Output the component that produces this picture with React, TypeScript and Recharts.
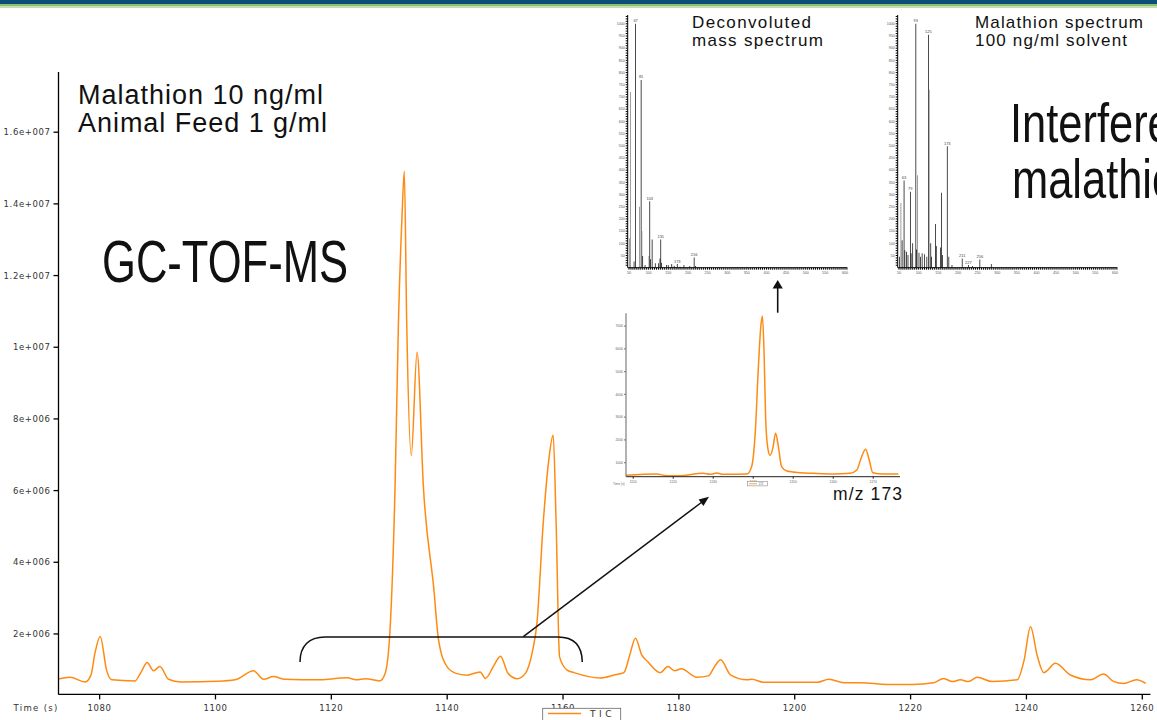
import React from 'react';
import { LineChart, Line, XAxis, YAxis, BarChart, Bar, Cell, LabelList } from 'recharts';

// ---------- Main TIC chromatogram (counts in thousands) ----------
const ticTimes = [
  1072.9, 1074.9, 1077.5, 1078.5, 1079.2, 1080.1, 1081.2, 1082.1, 1086.1, 1087.2,
  1088.2, 1089.3, 1090.4, 1091.9, 1094.0, 1100.5, 1103.4, 1106.6, 1108.3, 1110.0,
  1112.0, 1118.0, 1122.7, 1124.3, 1125.9, 1128.4, 1129.3, 1130.2, 1131.0, 1131.6,
  1132.2, 1132.6, 1133.0, 1133.8, 1134.8, 1135.9, 1137.7, 1138.5, 1140.0, 1141.5,
  1143.4, 1145.7, 1146.6, 1148.0, 1149.2, 1150.5, 1152.1, 1153.5, 1154.7, 1155.5,
  1156.6, 1157.5, 1158.3, 1158.8, 1159.4, 1160.7, 1161.9, 1166.4, 1169.0, 1170.5,
  1171.5, 1172.5, 1173.6, 1174.6, 1176.8, 1178.1, 1179.3, 1180.4, 1183.1, 1185.1,
  1186.2, 1187.2, 1188.9, 1191.8, 1192.6, 1194.6, 1203.9, 1205.9, 1208.5, 1211.4,
  1216.0, 1220.3, 1224.0, 1225.7, 1227.2, 1228.6, 1230.0, 1231.5, 1234.1, 1238.4,
  1239.6, 1240.7, 1241.9, 1243.0, 1245.0, 1247.6, 1251.1, 1253.3, 1255.1, 1256.8,
  1259.0, 1260.6,
];
const ticCountsK = [
  740, 790, 660, 850, 1470, 1930, 990, 720, 690, 950,
  1200, 975, 1090, 735, 660, 680, 720, 970, 735, 810,
  735, 720, 780, 720, 750, 690, 900, 2310, 6090, 10800,
  13640, 14910, 10800, 6980, 9860, 6090, 3250, 1840, 1080, 900,
  850, 940, 760, 1100, 1380, 900, 750, 900, 1500, 2310,
  5140, 6800, 7550, 5140, 1360, 990, 920, 770, 860, 920,
  1400, 1880, 1410, 1230, 920, 1090, 970, 1030, 790, 830,
  1100, 1280, 860, 720, 735, 650, 650, 735, 640, 640,
  590, 590, 640, 760, 670, 720, 670, 790, 670, 720,
  1270, 2200, 1370, 920, 1180, 855, 720, 880, 670, 620,
  720, 620,
];
const timeTicks = [1080, 1100, 1120, 1140, 1160, 1180, 1200, 1220, 1240, 1260];
const countTicksK = [2000, 4000, 6000, 8000, 10000, 12000, 14000, 16000];
const countTickLabels = ['2e+006', '4e+006', '6e+006', '8e+006', '1e+007', '1.2e+007', '1.4e+007', '1.6e+007'];

// ---------- Deconvoluted mass spectrum ----------
const deconvMz = [51, 54, 63, 67, 77, 81, 83, 85, 91, 101, 103, 105, 109, 117, 125, 129, 131, 133, 146, 150, 159, 165, 173, 180, 190, 205, 216, 219];
const deconvAbund = [120, 720, 25, 1000, 250, 770, 150, 48, 11, 48, 272, 35, 116, 18, 18, 38, 116, 20, 11, 11, 15, 8, 15, 4, 11, 7, 42, 7];
const deconvLabels = ['', '', '', '67', '', '81', '', '', '', '', '103', '', '', '', '', '', '131', '', '', '', '', '', '173', '', '', '', '216', ''];
const deconvShadedMz = [51, 54, 77, 83, 101];

// ---------- Malathion reference spectrum ----------
const malMz = [51, 55, 58, 63, 65, 69, 73, 79, 81, 85, 93, 95, 97, 101, 105, 109, 115, 121, 125, 127, 131, 133, 143, 145, 156, 158, 161, 173, 177, 185, 211, 227, 237, 256, 285];
const malAbund = [45, 265, 113, 358, 72, 65, 52, 311, 59, 100, 1000, 75, 379, 61, 45, 59, 55, 45, 955, 730, 100, 45, 179, 89, 83, 307, 52, 498, 45, 11, 38, 11, 7, 34, 15];
const malLabels = ['', '', '', '63', '', '', '', '79', '', '', '93', '', '', '', '', '', '', '', '125', '', '', '', '', '', '', '', '', '173', '', '', '211', '227', '', '256', ''];
const malShadedMz = [55, 97, 127];

const mzMajorTicks = [50, 100, 150, 200, 250, 300, 350, 400, 450, 500, 550, 600];
const abundMajorTicks = [50, 100, 150, 200, 250, 300, 350, 400, 450, 500, 550, 600, 650, 700, 750, 800, 850, 900, 950, 1000];

// ---------- m/z 173 extracted ion chromatogram ----------
const mz173Times = [1108.2, 1115.9, 1118.4, 1121.7, 1125.9, 1127.5, 1129.2, 1130.9, 1132.5, 1138.4,
  1139.6, 1140.5, 1141.3, 1141.9, 1142.3, 1142.7, 1143.1, 1143.6, 1144.2, 1144.9,
  1145.6, 1146.3, 1147.1, 1148.4, 1151.7, 1155.0, 1160.0, 1164.2, 1165.9, 1167.1,
  1168.1, 1169.0, 1169.9, 1172.5, 1176.3];
const mz173Counts = [444, 502, 430, 429, 517, 532, 488, 546, 488, 502,
  824, 2288, 5217, 6974, 7442, 5949, 3021, 1703, 1322, 1630,
  2289, 1703, 824, 634, 561, 532, 502, 532, 678, 1264,
  1586, 1117, 561, 502, 502];
const mz173TimeTicks = [1110, 1120, 1130, 1140, 1150, 1160, 1170];
const mz173CountTicks = [1000, 2000, 3000, 4000, 5000, 6000, 7000];

const ORANGE = '#ff8a12';
const SANS = 'Liberation Sans, Arial, sans-serif';
const AXISFONT = 'DejaVu Sans, sans-serif';

const ticData = ticTimes.map((t, i) => ({ t, v: ticCountsK[i] }));
const mz173Data = mz173Times.map((t, i) => ({ t, v: mz173Counts[i] }));

const minorMz: number[] = [];
for (let m = 50; m <= 605; m += 5) minorMz.push(m);
const minorAbund: number[] = [];
for (let a = 10; a <= 1030; a += 10) minorAbund.push(a);

const MainXTick = (p: any) => (
  <text x={p.x} y={p.y} dy={9.6} textAnchor="middle" fontSize={8.5} fontFamily={AXISFONT} fill="#333" letterSpacing={0.6}>
    {p.payload.value}
  </text>
);
const MainYTick = (p: any) => {
  const idx = countTicksK.indexOf(p.payload.value);
  return (
    <text x={p.x} y={p.y} dy={3} textAnchor="end" fontSize={8.5} fontFamily={AXISFONT} fill="#333" letterSpacing={0.6}>
      {idx >= 0 ? countTickLabels[idx] : ''}
    </text>
  );
};

const SpecXTick = (p: any) =>
  mzMajorTicks.indexOf(p.payload.value) >= 0 ? (
    <text x={p.x} y={p.y} dy={3.4} textAnchor="middle" fontSize={3.6} fontFamily={SANS} fill="#555">{p.payload.value}</text>
  ) : <g />;
const SpecYTick = (p: any) =>
  abundMajorTicks.indexOf(p.payload.value) >= 0 ? (
    <text x={p.x} y={p.y} dy={1.3} textAnchor="end" fontSize={3.6} fontFamily={SANS} fill="#555">{p.payload.value}</text>
  ) : <g />;

const TinyXTick = (p: any) => (
  <text x={p.x} y={p.y} dy={3} textAnchor="middle" fontSize={3.4} fontFamily={SANS} fill="#666">{p.payload.value}</text>
);
const TinyYTick = (p: any) => (
  <text x={p.x} y={p.y} dy={1.2} textAnchor="end" fontSize={3.4} fontFamily={SANS} fill="#666">{p.payload.value}</text>
);

function Spectrum(props: { left: number; top: number; mz: number[]; abund: number[]; labels: string[]; shaded: number[] }) {
  const data = props.mz.map((m, i) => ({ mz: m, a: props.abund[i], lab: props.labels[i] }));
  return (
    <div style={{ position: 'absolute', left: props.left, top: props.top }}>
      <BarChart width={260} height={280} data={data} margin={{ top: 5, right: 12.7, bottom: 0, left: 0 }}>
        <XAxis dataKey="mz" type="number" domain={[46.7, 605.9]} ticks={minorMz} interval={0} allowDataOverflow
          height={22.3} tickSize={2} tickMargin={1} stroke="#000" tick={<SpecXTick />} />
        <YAxis type="number" domain={[0, 1036]} ticks={minorAbund} interval={0} allowDataOverflow
          width={27.7} tickSize={2} tickMargin={1} stroke="#000" tick={<SpecYTick />} />
        <Bar dataKey="a" barSize={1.3} isAnimationActive={false}>
          {data.map((d, i) => (
            <Cell key={i} fill={props.shaded.indexOf(d.mz) >= 0 ? '#777' : '#000'} />
          ))}
          <LabelList dataKey="lab" position="top" offset={1.5} fontSize={4} fill="#444" fontFamily={SANS} />
        </Bar>
      </BarChart>
    </div>
  );
}

function arrowHead(x1: number, y1: number, x2: number, y2: number, len: number, half: number) {
  const dx = x2 - x1, dy = y2 - y1;
  const L = Math.sqrt(dx * dx + dy * dy);
  const ux = dx / L, uy = dy / L;
  const bx = x2 - ux * len, by = y2 - uy * len;
  return `${x2},${y2} ${bx - uy * half},${by + ux * half} ${bx + uy * half},${by - ux * half}`;
}

export default function App() {
  return (
    <div style={{ position: 'absolute', left: 0, top: 0, width: 1157, height: 720, overflow: 'hidden', background: '#fff', fontFamily: SANS }}>
      {/* banner */}
      <div style={{ position: 'absolute', left: 0, top: 0, width: 1157, height: 4, background: '#0b4e79' }} />
      <div style={{ position: 'absolute', left: 0, top: 4, width: 1157, height: 2.3, background: '#8cc06b' }} />
      <div style={{ position: 'absolute', left: 0, top: 6.3, width: 1157, height: 1.4, background: '#c4dfb1' }} />

      {/* main chromatogram */}
      <div style={{ position: 'absolute', left: 0, top: 0 }}>
        <LineChart width={1157} height={720} data={ticData} margin={{ top: 72, right: 6.6, bottom: 0, left: 0 }}>
          <XAxis dataKey="t" type="number" domain={[1072.9, 1261.4]} ticks={timeTicks} interval={0} allowDataOverflow
            height={25.6} tickSize={5} tickMargin={2} stroke="#000" strokeWidth={1.3} tick={<MainXTick />} />
          <YAxis type="number" domain={[313, 17680]} ticks={countTicksK} interval={0} allowDataOverflow
            width={58.5} tickSize={5} tickMargin={3} stroke="#000" strokeWidth={1.3} tick={<MainYTick />} />
          <Line dataKey="v" type="monotone" stroke={ORANGE} strokeWidth={1.5} dot={false} isAnimationActive={false} />
        </LineChart>
      </div>

      {/* spectra insets */}
      <Spectrum left={600} top={10} mz={deconvMz} abund={deconvAbund} labels={deconvLabels} shaded={deconvShadedMz} />
      <Spectrum left={870} top={10} mz={malMz} abund={malAbund} labels={malLabels} shaded={malShadedMz} />

      {/* m/z 173 inset */}
      <div style={{ position: 'absolute', left: 600, top: 300 }}>
        <LineChart width={310} height={200} data={mz173Data} margin={{ top: 13.3, right: 10, bottom: 0, left: 0 }}>
          <XAxis dataKey="t" type="number" domain={[1108.2, 1176.7]} ticks={mz173TimeTicks} interval={0} allowDataOverflow
            height={23.3} tickSize={2} tickMargin={1} stroke="#222" tick={<TinyXTick />} />
          <YAxis type="number" domain={[385, 7559]} ticks={mz173CountTicks} interval={0} allowDataOverflow
            width={26} tickSize={2} tickMargin={1} stroke="#888" strokeWidth={1.3} tick={<TinyYTick />} />
          <Line dataKey="v" type="monotone" stroke={ORANGE} strokeWidth={1.5} dot={false} isAnimationActive={false} />
        </LineChart>
      </div>

      {/* annotations */}
      <svg width={1157} height={720} style={{ position: 'absolute', left: 0, top: 0, pointerEvents: 'none' }}>
        <text x={78} y={104} fontSize={27} fill="#111" fontFamily={SANS} textLength={245}>Malathion 10 ng/ml</text>
        <text x={78} y={132} fontSize={27} fill="#111" fontFamily={SANS} textLength={249}>Animal Feed 1 g/ml</text>
        <text x={102} y={282} fontSize={59} fill="#111" fontFamily={SANS} textLength={246} lengthAdjust="spacingAndGlyphs">GC-TOF-MS</text>
        <g transform="translate(1010,142) scale(0.79,1)">
          <text x={0} y={0} fontSize={55} fill="#111" fontFamily={SANS}>Interference</text>
        </g>
        <g transform="translate(1012,198) scale(0.79,1)">
          <text x={0} y={0} fontSize={55} fill="#111" fontFamily={SANS}>malathion</text>
        </g>

        <text x={692} y={28.3} fontSize={17} fill="#111" fontFamily={SANS} textLength={119}>Deconvoluted</text>
        <text x={692} y={45.5} fontSize={17} fill="#111" fontFamily={SANS} textLength={131}>mass spectrum</text>
        <text x={975} y={28.3} fontSize={17} fill="#111" fontFamily={SANS} textLength={168}>Malathion spectrum</text>
        <text x={975} y={45.5} fontSize={17} fill="#111" fontFamily={SANS} textLength={152}>100 ng/ml solvent</text>
        <text x={833} y={500} fontSize={17.5} fill="#111" fontFamily={SANS} textLength={69}>m/z 173</text>

        {/* bracket and arrows */}
        <path d="M 300 662 C 300 646, 309 637, 325 637 L 558 637 C 574 637, 582 646, 582.3 662" fill="none" stroke="#111" strokeWidth={1.5} />
        <line x1={523.3} y1={636.7} x2={702} y2={502} stroke="#111" strokeWidth={1.5} />
        <polygon points={arrowHead(523.3, 636.7, 709, 496.7, 10, 4)} fill="#111" />
        <line x1={777.7} y1={312.7} x2={777.7} y2={287} stroke="#111" strokeWidth={1.6} />
        <polygon points="777.7,280 772.6,288.5 782.8,288.5" fill="#111" />

        {/* main axis title and legend */}
        <text x={13.4} y={711} fontSize={8.5} fill="#333" fontFamily={AXISFONT} textLength={44}>Time (s)</text>
        <rect x={542.7} y={708.3} width={78} height={15} fill="#fff" stroke="#666" strokeWidth={0.8} />
        <line x1={548} y1={713.5} x2={581} y2={713.5} stroke={ORANGE} strokeWidth={1.3} />
        <text x={590} y={716.8} fontSize={9} fill="#333" fontFamily={AXISFONT} letterSpacing={3.5}>TIC</text>

        {/* inset legend */}
        <text x={613} y={484.5} fontSize={3.2} fill="#666" fontFamily={SANS}>Time (s)</text>
        <rect x={747.3} y={481.7} width={20} height={4.2} fill="#fff" stroke="#777" strokeWidth={0.5} />
        <line x1={749} y1={483.8} x2={757} y2={483.8} stroke={ORANGE} strokeWidth={0.8} />
        <text x={758.5} y={485} fontSize={2.8} fill="#666" fontFamily={SANS}>173</text>
      </svg>
    </div>
  );
}
